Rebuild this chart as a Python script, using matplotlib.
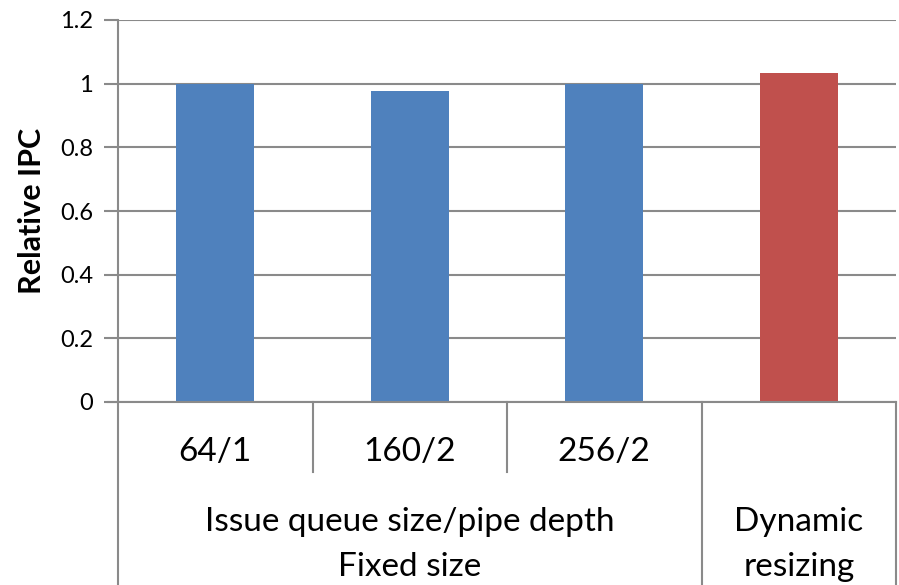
import matplotlib.pyplot as plt

configs = ['64/1', '160/2', '256/2', '']
relative_ipc = [1.0, 0.978, 1.0, 1.034]
bar_colors = ['#4F81BD', '#4F81BD', '#4F81BD', '#C0504D']
group_labels = ['Issue queue size/pipe depth', 'Dynamic']
group_labels2 = ['Fixed size', 'resizing']
yticks = [0, 0.2, 0.4, 0.6, 0.8, 1, 1.2]

plt.rcParams['font.family'] = ['Lato', 'DejaVu Sans']
grid_c = '#8a8a8a'

fig = plt.figure(figsize=(8.99, 5.85), dpi=100)
ax = fig.add_axes([118 / 899, 183 / 585, 778 / 899, 382 / 585])

x = range(len(configs))
ax.bar(x, relative_ipc, width=0.4, color=bar_colors, zorder=3)
ax.set_xlim(-0.5, 3.5)
ax.set_ylim(0, 1.2)
ax.set_yticks(yticks)
ax.set_yticklabels(['0', '0.2', '0.4', '0.6', '0.8', '1', '1.2'], fontsize=17)
ax.yaxis.grid(True, color=grid_c, linewidth=1.5, zorder=0)
ax.tick_params(axis='y', length=10, width=1.5, color=grid_c, pad=8)
ax.set_xticks([])
for s in ['top', 'right', 'bottom']:
    ax.spines[s].set_visible(False)
ax.spines['left'].set_color(grid_c)
ax.spines['left'].set_linewidth(1.5)
ax.set_ylabel('Relative IPC', fontsize=22, fontweight='bold', labelpad=10)

# category table under the axis
tr = ax.get_xaxis_transform()
ax.plot([-0.55, 3.5], [0, 0], transform=tr, color=grid_c, lw=1.5, clip_on=False, zorder=4)
for xv in [-0.5, 2.5, 3.5]:
    ax.plot([xv, xv], [0, -0.48], transform=tr, color=grid_c, lw=1.5, clip_on=False)
for xv in [0.5, 1.5]:
    ax.plot([xv, xv], [0, -0.183], transform=tr, color=grid_c, lw=1.5, clip_on=False)
for i, lab in enumerate(configs):
    ax.text(i, -0.13, lab, transform=tr, ha='center', va='center', fontsize=24)
ax.text(1, -0.314, group_labels[0], transform=tr, ha='center', va='center', fontsize=24)
ax.text(1, -0.432, group_labels2[0], transform=tr, ha='center', va='center', fontsize=24)
ax.text(3, -0.314, group_labels[1], transform=tr, ha='center', va='center', fontsize=24)
ax.text(3, -0.432, group_labels2[1], transform=tr, ha='center', va='center', fontsize=24)

fig.savefig('out.png', dpi=100)
